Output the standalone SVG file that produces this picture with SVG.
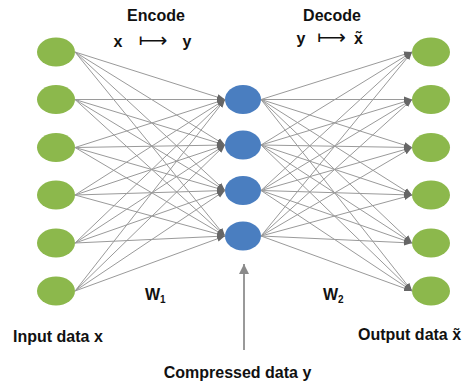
<svg xmlns="http://www.w3.org/2000/svg" width="468" height="385" viewBox="0 0 468 385">
<style>
.in{fill:#8cb84c}
.mid{fill:#4a7ec0}
.c line{stroke:#9a9a9a;stroke-width:1;fill:none}
.t{font-family:"Liberation Sans",Arial,sans-serif;font-weight:bold;font-size:16px;fill:#111}
.ar{font-family:"DejaVu Sans",sans-serif;font-size:20px;fill:#111}
</style>
<defs>
<marker id="ah" markerUnits="userSpaceOnUse" markerWidth="8" markerHeight="8" viewBox="0 0 8 8" refX="8" refY="4" orient="auto">
<path d="M0,1 L8,4 L0,7 Z" fill="#666"/>
</marker>
<marker id="big" markerUnits="userSpaceOnUse" markerWidth="12" markerHeight="10" viewBox="0 0 12 10" refX="10" refY="5" orient="auto">
<path d="M0,0 L10,5 L0,10 Z" fill="#8a8a8a"/>
</marker>
</defs>
<rect width="468" height="385" fill="#fff"/>
<g id="connectors" class="c">
<line x1="75" y1="52" x2="225" y2="99.5" marker-end="url(#ah)"/>
<line x1="75" y1="52" x2="225" y2="145" marker-end="url(#ah)"/>
<line x1="75" y1="52" x2="225" y2="190.5" marker-end="url(#ah)"/>
<line x1="75" y1="52" x2="225" y2="236" marker-end="url(#ah)"/>
<line x1="75" y1="99.5" x2="225" y2="99.5" marker-end="url(#ah)"/>
<line x1="75" y1="99.5" x2="225" y2="145" marker-end="url(#ah)"/>
<line x1="75" y1="99.5" x2="225" y2="190.5" marker-end="url(#ah)"/>
<line x1="75" y1="99.5" x2="225" y2="236" marker-end="url(#ah)"/>
<line x1="75" y1="147.5" x2="225" y2="99.5" marker-end="url(#ah)"/>
<line x1="75" y1="147.5" x2="225" y2="145" marker-end="url(#ah)"/>
<line x1="75" y1="147.5" x2="225" y2="190.5" marker-end="url(#ah)"/>
<line x1="75" y1="147.5" x2="225" y2="236" marker-end="url(#ah)"/>
<line x1="75" y1="195" x2="225" y2="99.5" marker-end="url(#ah)"/>
<line x1="75" y1="195" x2="225" y2="145" marker-end="url(#ah)"/>
<line x1="75" y1="195" x2="225" y2="190.5" marker-end="url(#ah)"/>
<line x1="75" y1="195" x2="225" y2="236" marker-end="url(#ah)"/>
<line x1="75" y1="243" x2="225" y2="99.5" marker-end="url(#ah)"/>
<line x1="75" y1="243" x2="225" y2="145" marker-end="url(#ah)"/>
<line x1="75" y1="243" x2="225" y2="190.5" marker-end="url(#ah)"/>
<line x1="75" y1="243" x2="225" y2="236" marker-end="url(#ah)"/>
<line x1="75" y1="291" x2="225" y2="99.5" marker-end="url(#ah)"/>
<line x1="75" y1="291" x2="225" y2="145" marker-end="url(#ah)"/>
<line x1="75" y1="291" x2="225" y2="190.5" marker-end="url(#ah)"/>
<line x1="75" y1="291" x2="225" y2="236" marker-end="url(#ah)"/>
<line x1="261" y1="99.5" x2="412" y2="52" marker-end="url(#ah)"/>
<line x1="261" y1="99.5" x2="412" y2="99.5" marker-end="url(#ah)"/>
<line x1="261" y1="99.5" x2="412" y2="147.5" marker-end="url(#ah)"/>
<line x1="261" y1="99.5" x2="412" y2="195" marker-end="url(#ah)"/>
<line x1="261" y1="99.5" x2="412" y2="243" marker-end="url(#ah)"/>
<line x1="261" y1="99.5" x2="412" y2="291" marker-end="url(#ah)"/>
<line x1="261" y1="145" x2="412" y2="52" marker-end="url(#ah)"/>
<line x1="261" y1="145" x2="412" y2="99.5" marker-end="url(#ah)"/>
<line x1="261" y1="145" x2="412" y2="147.5" marker-end="url(#ah)"/>
<line x1="261" y1="145" x2="412" y2="195" marker-end="url(#ah)"/>
<line x1="261" y1="145" x2="412" y2="243" marker-end="url(#ah)"/>
<line x1="261" y1="145" x2="412" y2="291" marker-end="url(#ah)"/>
<line x1="261" y1="190.5" x2="412" y2="52" marker-end="url(#ah)"/>
<line x1="261" y1="190.5" x2="412" y2="99.5" marker-end="url(#ah)"/>
<line x1="261" y1="190.5" x2="412" y2="147.5" marker-end="url(#ah)"/>
<line x1="261" y1="190.5" x2="412" y2="195" marker-end="url(#ah)"/>
<line x1="261" y1="190.5" x2="412" y2="243" marker-end="url(#ah)"/>
<line x1="261" y1="190.5" x2="412" y2="291" marker-end="url(#ah)"/>
<line x1="261" y1="236" x2="412" y2="52" marker-end="url(#ah)"/>
<line x1="261" y1="236" x2="412" y2="99.5" marker-end="url(#ah)"/>
<line x1="261" y1="236" x2="412" y2="147.5" marker-end="url(#ah)"/>
<line x1="261" y1="236" x2="412" y2="195" marker-end="url(#ah)"/>
<line x1="261" y1="236" x2="412" y2="243" marker-end="url(#ah)"/>
<line x1="261" y1="236" x2="412" y2="291" marker-end="url(#ah)"/>
<line x1="244" y1="350" x2="244" y2="264" style="stroke:#999;stroke-width:2" marker-end="url(#big)"/>
</g>
<g id="in1"><ellipse class="in" cx="56" cy="52" rx="19" ry="14.5"/></g>
<g id="in2"><ellipse class="in" cx="56" cy="99.5" rx="19" ry="14.5"/></g>
<g id="in3"><ellipse class="in" cx="56" cy="147.5" rx="19" ry="14.5"/></g>
<g id="in4"><ellipse class="in" cx="56" cy="195" rx="19" ry="14.5"/></g>
<g id="in5"><ellipse class="in" cx="56" cy="243" rx="19" ry="14.5"/></g>
<g id="in6"><ellipse class="in" cx="56" cy="291" rx="19" ry="14.5"/></g>
<g id="m1"><ellipse class="mid" cx="243" cy="99.5" rx="18" ry="14.5"/></g>
<g id="m2"><ellipse class="mid" cx="243" cy="145" rx="18" ry="14.5"/></g>
<g id="m3"><ellipse class="mid" cx="243" cy="190.5" rx="18" ry="14.5"/></g>
<g id="m4"><ellipse class="mid" cx="243" cy="236" rx="18" ry="14.5"/></g>
<g id="out1"><ellipse class="in" cx="431" cy="52" rx="19" ry="14.5"/></g>
<g id="out2"><ellipse class="in" cx="431" cy="99.5" rx="19" ry="14.5"/></g>
<g id="out3"><ellipse class="in" cx="431" cy="147.5" rx="19" ry="14.5"/></g>
<g id="out4"><ellipse class="in" cx="431" cy="195" rx="19" ry="14.5"/></g>
<g id="out5"><ellipse class="in" cx="431" cy="243" rx="19" ry="14.5"/></g>
<g id="out6"><ellipse class="in" cx="431" cy="291" rx="19" ry="14.5"/></g>
<g id="labels">
<text class="t" x="156" y="21" text-anchor="middle">Encode</text>
<text class="t" x="118" y="46.5" text-anchor="middle">x</text>
<text class="ar" x="153" y="47" text-anchor="middle">⟼</text>
<text class="t" x="187" y="46.5" text-anchor="middle">y</text>
<text class="t" x="332" y="21" text-anchor="middle">Decode</text>
<text class="t" x="301" y="43.5" text-anchor="middle">y</text>
<text class="ar" x="331.5" y="44" text-anchor="middle">⟼</text>
<text class="t" x="358.5" y="43.5" text-anchor="middle">x̃</text>
<text class="t" x="145" y="300">W<tspan dy="3" style="font-size:10px">1</tspan></text>
<text class="t" x="323" y="300">W<tspan dy="3" style="font-size:10px">2</tspan></text>
<text class="t" x="13" y="341.5">Input data x</text>
<text class="t" x="358" y="340">Output data x̃</text>
<text class="t" x="237.5" y="378" text-anchor="middle">Compressed data y</text>
</g>
</svg>
